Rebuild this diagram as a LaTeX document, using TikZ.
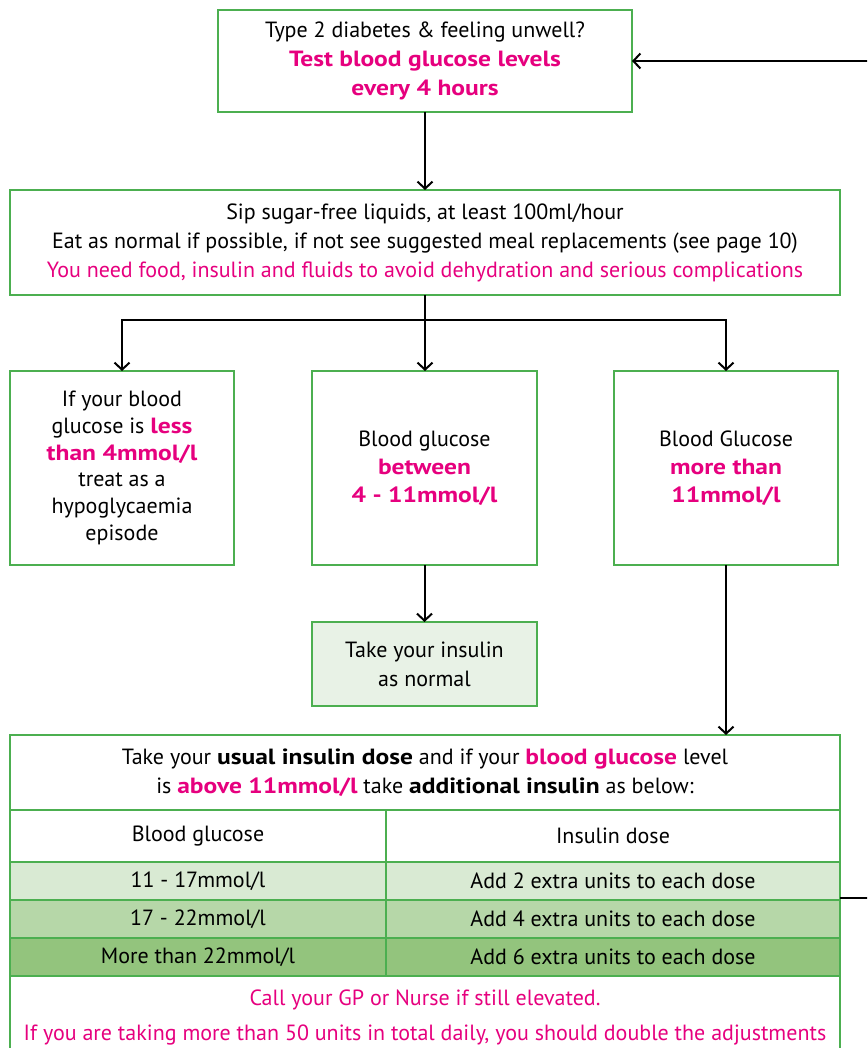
\documentclass[tikz,border=0pt]{standalone}
\usepackage{fontspec}
\setmainfont{PT Sans}[BoldFeatures={FakeStretch=1.16}]
\usetikzlibrary{arrows.meta,positioning}
\definecolor{boxgreen}{RGB}{76,175,80}
\definecolor{hipink}{RGB}{230,0,126}
\definecolor{rowa}{RGB}{217,234,211}
\definecolor{rowb}{RGB}{182,215,168}
\definecolor{rowc}{RGB}{147,196,125}
\definecolor{notefill}{RGB}{232,242,230}
\newcommand{\hl}[1]{\textbf{\color{hipink}#1}}
\tikzset{
  box/.style={draw=boxgreen, line width=2.5pt, align=center, inner sep=0pt, outer sep=0pt, anchor=north west},
  cell/.style={draw=boxgreen, line width=1.5pt, align=center, inner sep=0pt, outer sep=0pt, anchor=north west},
  flow/.style={->, line width=2pt},
}

\begin{document}
\begin{tikzpicture}[x=1pt,y=-1pt,>={Straight Barb[length=7pt,width=15pt]},
  font=\fontsize{22}{29}\selectfont]
  \useasboundingbox (0,0) rectangle (867,1048);
  \clip (0,0) rectangle (867,1048);
  % flow boxes
  \node[box, minimum width=414, minimum height=102] (test) at (218,10)
    {Type 2 diabetes \& feeling unwell?\\\hl{Test blood glucose levels}\\\hl{every 4 hours}};
  \node[box, minimum width=830, minimum height=105] (advice) at (10,190)
    {Sip sugar-free liquids, at least 100ml/hour\\
     Eat as normal if possible, if not see suggested meal replacements (see page 10)\\
     {\color{hipink}You need food, insulin and fluids to avoid dehydration and serious complications}};
  \node[box, minimum width=224, minimum height=194, font=\fontsize{22}{26.8}\selectfont] (low) at (10,371)
    {If your blood\\glucose is \hl{less}\\\hl{than 4mmol/l}\\treat as a\\hypoglycaemia\\episode};
  \node[box, minimum width=225, minimum height=194, font=\fontsize{22}{28}\selectfont] (mid) at (312,371)
    {Blood glucose\\\hl{between}\\\hl{4 - 11mmol/l}};
  \node[box, minimum width=224, minimum height=194, font=\fontsize{22}{28}\selectfont] (high) at (614,371)
    {Blood Glucose\\\hl{more than}\\\hl{11mmol/l}};
  \node[box, fill=notefill, minimum width=225, minimum height=84] (normal) at (312,622)
    {Take your insulin\\as normal};
  % dose table
  \draw[boxgreen, line width=1.5pt] (10,735) rectangle (840,1070);
  \node[cell, minimum width=830, minimum height=75] (head) at (10,735)
    {Take your \textbf{usual insulin dose} and if your \hl{blood glucose} level\\
     is \hl{above 11mmol/l} take \textbf{additional insulin} as below:};
  \node[cell, minimum width=376, minimum height=52] (gluc) at (10,810) {Blood glucose};
  \node[cell, minimum width=454, minimum height=52] (dose) at (386,810) {Insulin dose};
  \node[cell, fill=rowa, minimum width=376, minimum height=38] (rowa-gluc) at (10,862) {11 - 17mmol/l};
  \node[cell, fill=rowa, minimum width=454, minimum height=38] (rowa-dose) at (386,862) {Add 2 extra units to each dose};
  \node[cell, fill=rowb, minimum width=376, minimum height=38] (rowb-gluc) at (10,900) {17 - 22mmol/l};
  \node[cell, fill=rowb, minimum width=454, minimum height=38] (rowb-dose) at (386,900) {Add 4 extra units to each dose};
  \node[cell, fill=rowc, minimum width=376, minimum height=38] (rowc-gluc) at (10,938) {More than 22mmol/l};
  \node[cell, fill=rowc, minimum width=454, minimum height=38] (rowc-dose) at (386,938) {Add 6 extra units to each dose};
  \node[text=hipink] (call) at (425,1000) {Call your GP or Nurse if still elevated.};
  \node[text=hipink] (double) at (425,1035)
    {If you are taking more than 50 units in total daily, you should double the adjustments};
  % connectors
  \coordinate (split) at (advice.south |- 0,320);
  \draw[flow] (test.south) -- (advice.north);
  \draw[line width=2pt] (advice.south) -- (split);
  \draw[flow] (split) -| (low.north);
  \draw[flow] (split) -- (split |- mid.north);
  \draw[flow] (split) -| (high.north);
  \draw[flow] (mid.south) -- (normal.north);
  \draw[flow] (high.south) -- (high.south |- head.north);
  \draw[flow] ([yshift=2pt]rowb-dose.north east) -- ++(45,0) |- (test.east);
\end{tikzpicture}
\end{document}
